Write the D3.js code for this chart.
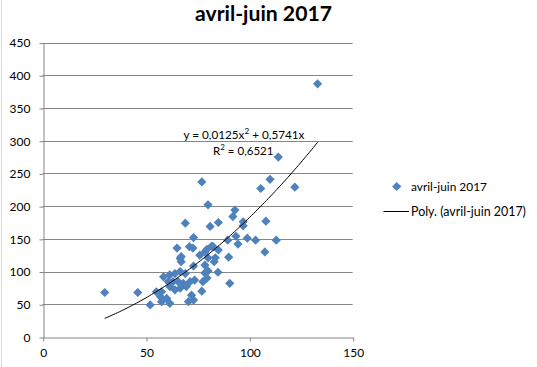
<!DOCTYPE html>
<html><head><meta charset="utf-8">
<script src="https://cdn.jsdelivr.net/npm/d3@7"></script>
<style>body{margin:0;background:#fff}svg{display:block}</style>
</head><body>
<svg id="c" width="537" height="367"></svg>
<script>
const title = "avril-juin 2017";
const seriesName = "avril-juin 2017";
const trendName = "Poly. (avril-juin 2017)";
const xTicks = [0, 50, 100, 150];
const yTicks = [0, 50, 100, 150, 200, 250, 300, 350, 400, 450];
const trendCoef = [0.0125, 0.5741]; // y = a x^2 + b x
const r2Label = "0,6521";
const xValues = [133,114,110,105.5,122,77,80,93,92,69,85,81,97,97,108,73,89.5,93.5,94.5,99,103,113,107.5,90,90.5,77,30,46,52,65,71,79.5,82.5,66.5,67,55,57.5,61.5,70.5,72.7,78.5,81.8,76,80,83.5,78.5,73,78.5,79.5,73.5,71.3,72,73,77.5,58.5,61.5,64,66.5,69,63,65.5,68,61.5,64,66.5,69.5,57,60,57.5,67,60.8,85,83,84.8,80];
const yValues = [387,275,241,227,229,237,202,194,184,174,175,169,176,170,177,152,148,154,142,151,148,148,130,122,82,70,68,68,49,136,138,134,138,120,115,69,54,51.5,54,136,130,139,125,121,121,110,108.5,98,90,87,84.5,64,56.5,84.5,92,95,97,100,97,84.5,84.5,82,77,72,74.5,77,61.5,59,69,123,84.5,133,115,99,101];

const svg = d3.select("#c");
const FONT = "Lato, 'Open Sans', sans-serif";
const grid = "#868686";

const x = d3.scaleLinear().domain([0,150]).range([42.7,352.7]);
const y = d3.scaleLinear().domain([0,450]).range([337,42.6]);

function fit(sel, w){
  let fs = parseFloat(sel.attr("font-size"));
  const l = sel.node().getComputedTextLength();
  sel.attr("font-size", (fs*w/l).toFixed(2));
}

// outer border left
svg.append("line").attr("x1",1.5).attr("x2",1.5).attr("y1",0).attr("y2",367).attr("stroke","#d9d9d9");

// gridlines
svg.append("g").selectAll("line").data(yTicks.filter(d=>d>0)).join("line")
  .attr("x1",x(0)).attr("x2",x(150))
  .attr("y1",d=>Math.round(y(d))+0.5).attr("y2",d=>Math.round(y(d))+0.5)
  .attr("stroke",grid).attr("stroke-width",1);

// y axis
const yAx = svg.append("g").attr("transform",`translate(${Math.round(x(0))+0.5},0.5)`)
  .call(d3.axisLeft(y).tickValues(yTicks).tickSize(4).tickSizeOuter(0).tickPadding(9).tickFormat(d3.format("d")));
// x axis
const xAx = svg.append("g").attr("transform",`translate(0.5,${Math.round(y(0))+0.5})`)
  .call(d3.axisBottom(x).tickValues(xTicks).tickSize(4).tickSizeOuter(0).tickPadding(7).tickFormat(d3.format("d")));
[yAx,xAx].forEach(a=>{
  a.select(".domain").attr("stroke",grid);
  a.selectAll(".tick line").attr("stroke",grid);
  a.selectAll("text").attr("font-family",FONT).attr("font-size",12).attr("fill","#000");
});
yAx.selectAll(".tick line").attr("y1",0).attr("y2",0);

// points
const diamond = "M0,-4.6L4.6,0L0,4.6L-4.6,0Z";
svg.append("g").selectAll("path").data(xValues.map((v,i)=>[v,yValues[i]])).join("path")
  .attr("d",diamond)
  .attr("transform",d=>`translate(${x(d[0])},${y(d[1])})`)
  .attr("fill","#4f81bd");

// trendline
const xmin = d3.min(xValues), xmax = d3.max(xValues);
const tl = d3.range(0,101).map(i=>{const xv = xmin+(xmax-xmin)*i/100; return [xv, trendCoef[0]*xv*xv+trendCoef[1]*xv];});
svg.append("path").datum(tl)
  .attr("d",d3.line().x(d=>x(d[0])).y(d=>y(d[1])))
  .attr("fill","none").attr("stroke","#000").attr("stroke-width",1);

// equation
const fmt = v => String(v).replace(".",",");
const eq = svg.append("text").attr("x",183.5).attr("y",138.5).attr("font-family",FONT).attr("font-size",12).attr("fill","#000");
eq.append("tspan").text(`y = ${fmt(trendCoef[0])}x`);
eq.append("tspan").text("2").attr("font-size","0.7em").attr("dy",-5);
eq.append("tspan").text(` + ${fmt(trendCoef[1])}x`).attr("dy",5);
fit(eq,121);
const r2 = svg.append("text").attr("x",213).attr("y",155).attr("font-family",FONT).attr("font-size",12).attr("fill","#000");
r2.append("tspan").text("R");
r2.append("tspan").text("2").attr("font-size","0.7em").attr("dy",-5);
r2.append("tspan").text(` = ${r2Label}`).attr("dy",5);
fit(r2,60.5);

// title
const t = svg.append("text").attr("x",263.5).attr("y",20.5).attr("text-anchor","middle")
  .attr("font-family",FONT).attr("font-weight","bold").attr("font-size",18).attr("fill","#000").text(title);
fit(t,137);

// legend
svg.append("path").attr("d",diamond).attr("transform","translate(396.7,186.5)").attr("fill","#4f81bd");
const l1 = svg.append("text").attr("x",411).attr("y",190.5).attr("font-family",FONT).attr("font-size",12).attr("fill","#000").text(seriesName);
fit(l1,76);
svg.append("line").attr("x1",383.5).attr("x2",409).attr("y1",211.5).attr("y2",211.5).attr("stroke","#000");
const l2 = svg.append("text").attr("x",411).attr("y",215.5).attr("font-family",FONT).attr("font-size",12).attr("fill","#000").text(trendName);
fit(l2,115);
</script>
</body></html>
